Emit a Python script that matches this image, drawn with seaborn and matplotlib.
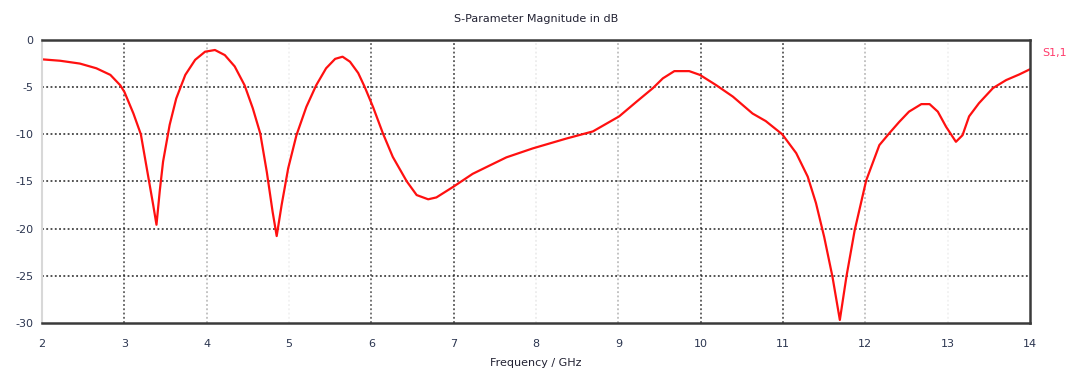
import matplotlib
matplotlib.use("Agg")
import matplotlib.pyplot as plt
import seaborn as sns
import pandas as pd

freq_ghz = [2.0, 2.22, 2.46, 2.66, 2.83, 2.95, 3.0, 3.11, 3.2, 3.3, 3.35, 3.39, 3.43, 3.47, 3.55,
            3.63, 3.74, 3.86, 3.98, 4.10, 4.22, 4.34, 4.46, 4.56, 4.65, 4.73, 4.80, 4.85, 4.91,
            4.99, 5.09, 5.21, 5.33, 5.45, 5.56, 5.65, 5.74, 5.84, 5.92, 6.02, 6.14, 6.26, 6.43,
            6.55, 6.69, 6.79, 6.99, 7.23, 7.44, 7.64, 7.96, 8.37, 8.69, 9.01, 9.22, 9.42, 9.54,
            9.68, 9.86, 9.99, 10.19, 10.39, 10.63, 10.79, 10.99, 11.16, 11.3, 11.4, 11.5, 11.6,
            11.69, 11.77, 11.87, 12.01, 12.17, 12.29, 12.41, 12.53, 12.68, 12.78, 12.88, 12.98,
            13.10, 13.18, 13.26, 13.38, 13.55, 13.71, 13.87, 14.0]
s11_db = [-2.05, -2.2, -2.5, -3.0, -3.7, -4.8, -5.5, -7.8, -10.0, -15.0, -17.5, -19.6, -16.0, -12.9, -9.0,
          -6.2, -3.7, -2.1, -1.24, -1.06, -1.6, -2.8, -4.8, -7.25, -9.9, -14.0, -18.2, -20.8, -17.5,
          -13.6, -10.1, -7.1, -4.8, -3.0, -2.0, -1.77, -2.3, -3.5, -5.0, -7.1, -9.9, -12.4, -15.0,
          -16.45, -16.9, -16.7, -15.6, -14.2, -13.3, -12.45, -11.5, -10.45, -9.7, -8.1, -6.55, -5.1, -4.07,
          -3.3, -3.3, -3.7, -4.8, -6.0, -7.8, -8.6, -10.0, -12.0, -14.5, -17.3, -20.9, -25.1,
          -29.7, -25.1, -20.2, -14.9, -11.15, -9.9, -8.7, -7.6, -6.8, -6.8, -7.6, -9.2,
          -10.8, -10.1, -8.1, -6.7, -5.1, -4.25, -3.65, -3.1]

x_ticks = [2, 3, 4, 5, 6, 7, 8, 9, 10, 11, 12, 13, 14]
y_ticks = [0, -5, -10, -15, -20, -25, -30]
# visual strength of each vertical grid line (as rendered in reference)
vgrid_alpha = [0, 0.85, 0.35, 0.08, 0.8, 0.9, 0.1, 0.35, 0.9, 0.9, 0.35, 0.08, 0]

title = "S-Parameter Magnitude in dB"
x_label = "Frequency / GHz"
series_label = "S1,1"

sns.set_style("white")
plt.rcParams['font.family'] = ['DejaVu Sans']
plt.rcParams['axes.unicode_minus'] = False

fig = plt.figure(figsize=(10.78, 3.74), dpi=100)
ax = fig.add_axes([0.039, 0.137, 0.9165, 0.756])

df = pd.DataFrame({"f": freq_ghz, "s": s11_db})
sns.lineplot(data=df, x="f", y="s", ax=ax, color="#ff1010", linewidth=1.6, sort=False)

ax.set_xlim(2, 14)
ax.set_ylim(-30, 0)
ax.set_xticks(x_ticks)
ax.set_yticks(y_ticks)
ax.set_xticklabels([str(t) for t in x_ticks], fontsize=8, color="#2b3550")
ax.set_yticklabels([str(t) for t in y_ticks], fontsize=8, color="#2b3550")
ax.tick_params(axis="both", length=3, width=1.2, color="#333333", direction="out")
ax.tick_params(axis="x", pad=9)
ax.tick_params(axis="y", pad=3)

for yv in y_ticks[1:-1]:
    ax.axhline(yv, color="#222222", linestyle=(0, (1.2, 1.6)), linewidth=1.1, zorder=0)
for xv, a in zip(x_ticks, vgrid_alpha):
    if a > 0:
        ax.axvline(xv, color="#222222", alpha=a, linestyle=(0, (1.2, 1.6)), linewidth=1.1, zorder=0)

for side in ["top", "bottom", "right"]:
    ax.spines[side].set_color("#3a3a3a")
    ax.spines[side].set_linewidth(1.8)
ax.spines["left"].set_color("#d8d8d8")
ax.spines["left"].set_linewidth(1.5)

ax.set_xlabel(x_label, fontsize=8, color="#222233", labelpad=6)
ax.set_ylabel("")
ax.set_title(title, fontsize=8, color="#222233", pad=13)
ax.text(1.012, 0.955, series_label, transform=ax.transAxes, fontsize=8,
        color="#ff3b6b", ha="left", va="center")

fig.savefig("out.png", dpi=100)
